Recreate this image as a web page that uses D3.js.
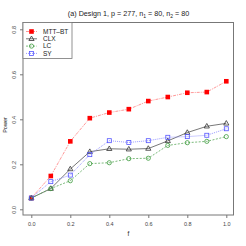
<!DOCTYPE html>
<html><head><meta charset="utf-8">
<script src="https://cdn.jsdelivr.net/npm/d3@7"></script>
<style>body{margin:0;background:#fff}svg{display:block;font-family:"Liberation Sans",Arial,sans-serif}</style>
</head><body><svg id="c" width="246" height="246"></svg>
<script>
const fValues = [0.0,0.1,0.2,0.3,0.4,0.5,0.6,0.7,0.8,0.9,1.0];
const mttbt = [0.05,0.148,0.302,0.405,0.43,0.445,0.481,0.499,0.518,0.521,0.569];
const clx   = [0.05,0.092,0.179,0.256,0.269,0.267,0.27,0.304,0.341,0.369,0.382];
const lc    = [0.05,0.092,0.127,0.203,0.207,0.225,0.227,0.284,0.296,0.302,0.323];
const sy    = [0.05,0.123,0.152,0.243,0.305,0.297,0.305,0.32,0.323,0.329,0.358];
const seriesNames = ["MTT\u2013BT","CLX","LC","SY"];
const xTicks = [0,0.2,0.4,0.6,0.8,1.0];
const yTicks = [0,0.2,0.4,0.6,0.8];

const svg = d3.select("#c");
const x = d3.scaleLinear().domain([0,1]).range([31.3,226.3]);
const y = d3.scaleLinear().domain([0,0.8]).range([209.3,29.3]);
const box = {l:23,r:233.5,t:22.5,b:215};

const series = [
  {name:seriesNames[0], v:mttbt, color:"#ff7f7f", mcol:"#ff0000", dash:"3,1,1,1", shape:"sqfill"},
  {name:seriesNames[1], v:clx, color:"#555555", mcol:"#333333", dash:null, shape:"tri"},
  {name:seriesNames[2], v:lc, color:"#5aa85a", mcol:"#3c9a3c", dash:"2,1.5", shape:"circ"},
  {name:seriesNames[3], v:sy, color:"#8080ff", mcol:"#5555ff", dash:"1,1", shape:"sq"}
];

function marker(g, shape, cx, cy, col){
  if(shape==="sqfill") g.append("rect").attr("x",cx-2.3).attr("y",cy-2.3).attr("width",4.6).attr("height",4.6).attr("fill",col);
  else if(shape==="sq") g.append("rect").attr("x",cx-2).attr("y",cy-2).attr("width",4).attr("height",4).attr("fill","none").attr("stroke",col).attr("stroke-width",0.8);
  else if(shape==="circ") g.append("circle").attr("cx",cx).attr("cy",cy).attr("r",2.1).attr("fill","none").attr("stroke",col).attr("stroke-width",0.8);
  else if(shape==="tri") g.append("path").attr("d",`M${cx},${cy-2.8}L${cx+2.6},${cy+1.7}L${cx-2.6},${cy+1.7}Z`).attr("fill","none").attr("stroke",col).attr("stroke-width",0.8);
}

svg.append("rect").attr("x",box.l).attr("y",box.t).attr("width",box.r-box.l).attr("height",box.b-box.t)
  .attr("fill","none").attr("stroke","#777").attr("stroke-width",1);

const xa = svg.append("g").attr("transform",`translate(0,${box.b})`)
  .call(d3.axisBottom(x).tickValues(xTicks).tickFormat(d3.format(".1f")).tickSize(3).tickSizeOuter(0));
xa.select(".domain").remove();
xa.selectAll("line").attr("stroke","#777");
xa.selectAll("text").attr("font-size",5.5).attr("fill","#444").attr("dy","0.9em");

const ya = svg.append("g").attr("transform",`translate(${box.l},0)`)
  .call(d3.axisLeft(y).tickValues(yTicks).tickFormat(d3.format(".1f")).tickSize(3).tickSizeOuter(0));
ya.select(".domain").remove();
ya.selectAll("line").attr("stroke","#777");
ya.selectAll("text").attr("font-size",5.5).attr("fill","#444")
  .attr("x",0).attr("dy",0).attr("text-anchor","middle")
  .attr("transform","translate(-7.5,0) rotate(-90)");

svg.append("text").attr("x",128.5).attr("y",236).attr("text-anchor","middle").attr("font-size",6.5).attr("fill","#222").text("f");
svg.append("text").attr("transform","translate(7,125) rotate(-90)").attr("text-anchor","middle").attr("font-size",5.5).attr("fill","#222").text("Power");

const t = svg.append("text").attr("x",128.5).attr("y",16).attr("text-anchor","middle").attr("font-size",7.2).attr("fill","#222");
t.append("tspan").text("(a) Design 1, p = 277, n");
t.append("tspan").attr("font-size",5).attr("dy",1.5).text("1");
t.append("tspan").attr("dy",-1.5).text(" = 80, n");
t.append("tspan").attr("font-size",5).attr("dy",1.5).text("2");
t.append("tspan").attr("dy",-1.5).text(" = 80");

const line = d3.line().x((d,i)=>x(fValues[i])).y(d=>y(d));
series.forEach(s=>{
  svg.append("path").datum(s.v).attr("d",line).attr("fill","none").attr("stroke",s.color)
    .attr("stroke-width",0.8).attr("stroke-dasharray",s.dash);
  const g = svg.append("g");
  s.v.forEach((v,i)=>marker(g,s.shape,x(fValues[i]),y(v),s.mcol));
});

svg.append("rect").attr("x",box.l).attr("y",box.t).attr("width",49).attr("height",36).attr("fill","#fff").attr("stroke","#777").attr("stroke-width",0.8);
series.forEach((s,i)=>{
  const ly = 31.5 + i*7.3;
  svg.append("line").attr("x1",26).attr("x2",37).attr("y1",ly).attr("y2",ly).attr("stroke",s.color).attr("stroke-width",0.8).attr("stroke-dasharray",s.dash);
  marker(svg,s.shape,31.5,ly,s.mcol);
  svg.append("text").attr("x",43).attr("y",ly+2.3).attr("font-size",6.5).attr("fill","#222").text(s.name);
});
</script></body></html>
